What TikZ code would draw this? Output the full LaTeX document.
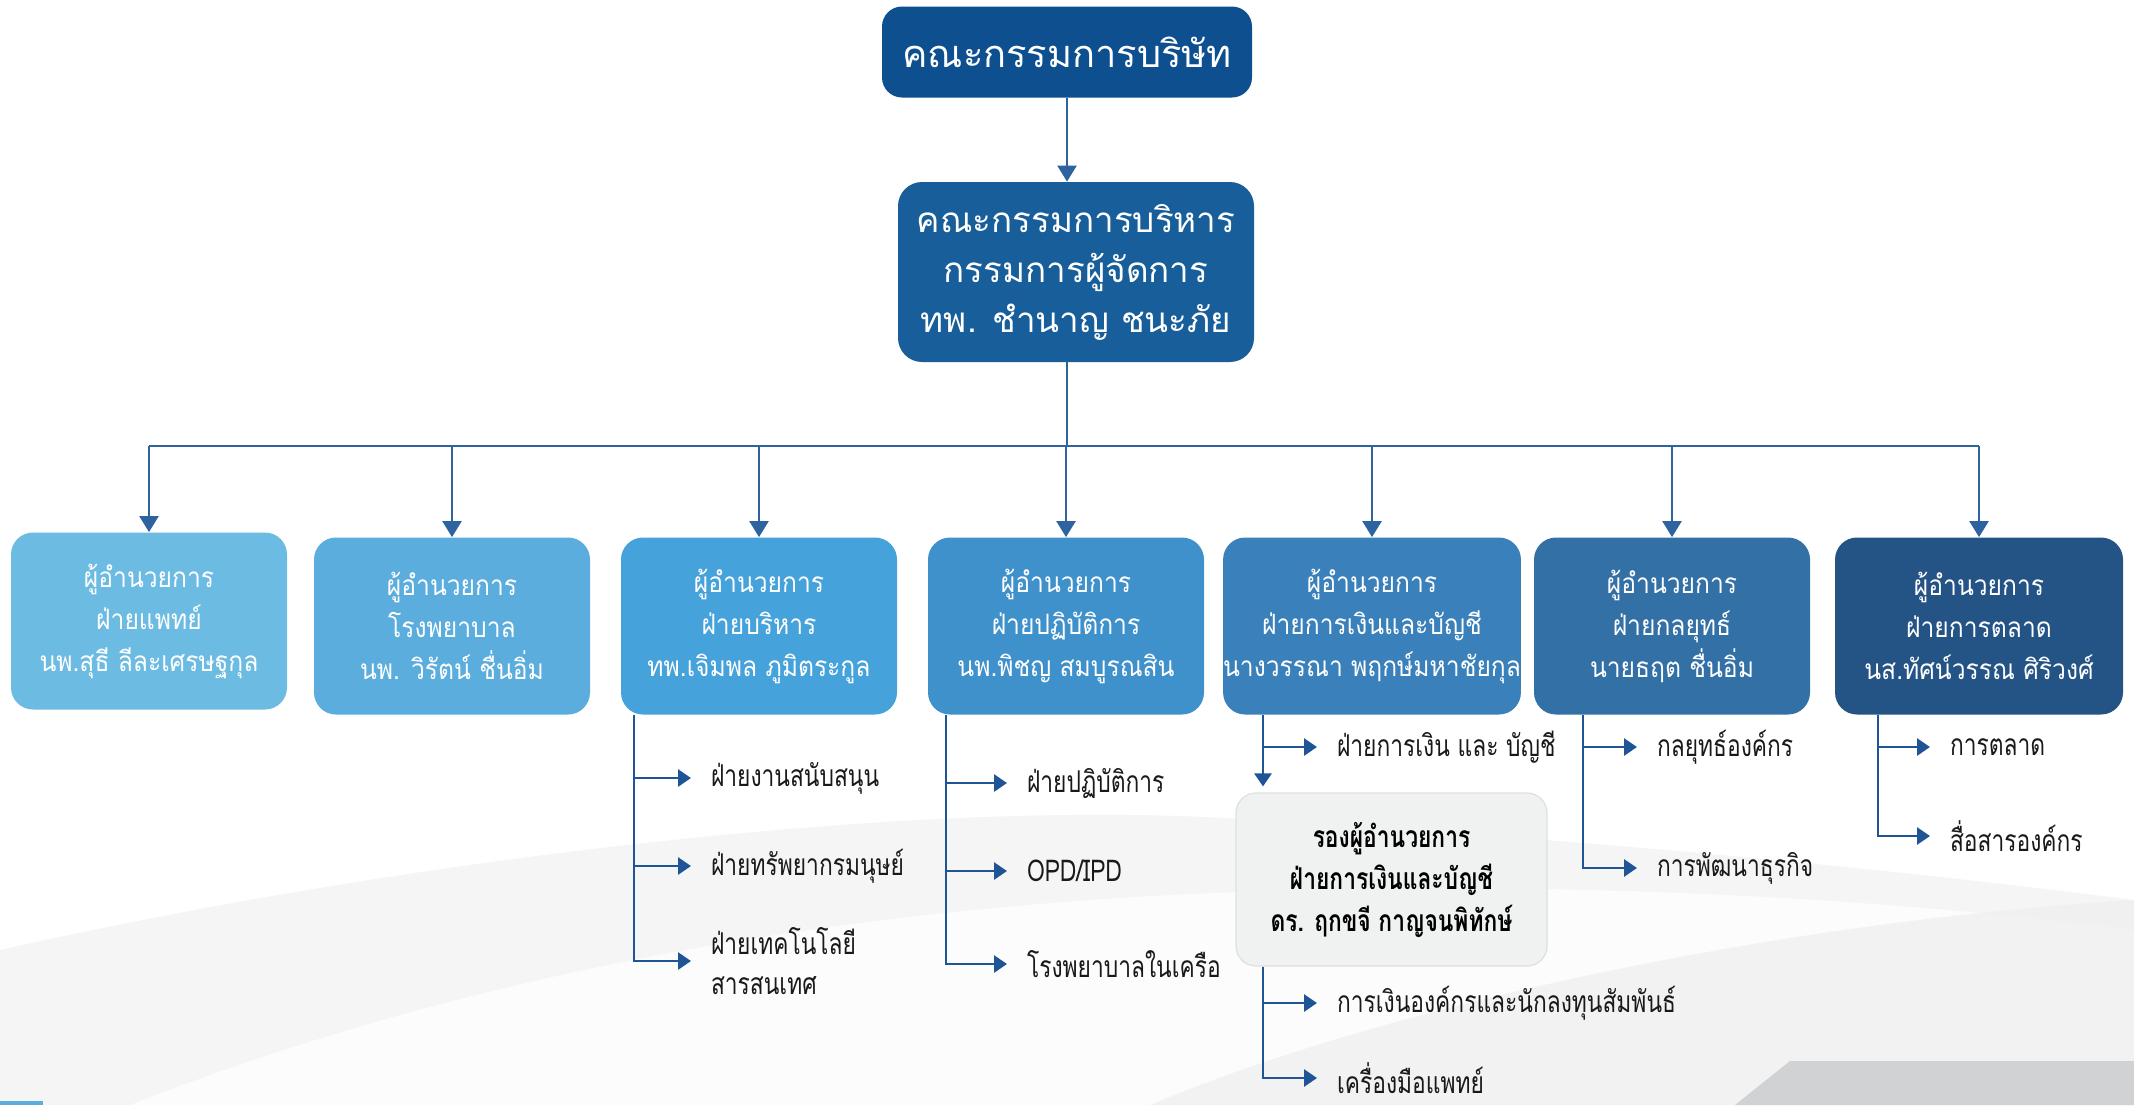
\documentclass[tikz,border=0pt]{standalone}
\usepackage{fontspec}
\setmainfont[Script=Thai]{Loma}
\newfontfamily\boxfont[Script=Thai,FakeStretch=0.88]{Loma}
\newfontfamily\condfont[Script=Thai,FakeStretch=0.76]{Loma}
\usetikzlibrary{arrows.meta,calc}
\definecolor{cTop}{HTML}{0D4F8F}
\definecolor{cExec}{HTML}{175E9A}
\definecolor{cD1}{HTML}{6CBBE2}
\definecolor{cD2}{HTML}{5AADDC}
\definecolor{cD3}{HTML}{46A2DB}
\definecolor{cD4}{HTML}{3F91CB}
\definecolor{cD5}{HTML}{3A80BA}
\definecolor{cD6}{HTML}{3270A6}
\definecolor{cD7}{HTML}{245385}
\definecolor{lineblue}{HTML}{2E63A0}
\definecolor{subblue}{HTML}{1F5597}
\definecolor{greybox}{HTML}{F0F1F1}
\definecolor{greyedge}{HTML}{DEE0E0}
\definecolor{swoosh}{HTML}{F5F5F6}
\definecolor{swooshdark}{HTML}{EFEFF0}
\definecolor{corner}{HTML}{D1D2D4}
\begin{document}
\begin{tikzpicture}[x=0.5pt,y=-0.5pt,
  topbox/.style={fill=cTop, rounded corners=10pt, text=white, align=center,
    minimum width=185pt, minimum height=45.5pt, inner sep=0pt,
    font=\fontsize{19}{24}\selectfont},
  execbox/.style={fill=cExec, rounded corners=12pt, text=white, align=center,
    minimum width=178pt, minimum height=90pt, inner sep=0pt,
    font=\fontsize{17.5}{25}\selectfont},
  dbox/.style={rounded corners=11pt, text=white, align=center,
    minimum width=138pt, minimum height=88.5pt, inner sep=0pt,
    font=\boxfont\fontsize{14}{21}\selectfont},
  gbox/.style={fill=greybox, draw=greyedge, line width=0.6pt, rounded corners=10pt,
    align=center, minimum width=155.5pt, minimum height=86.5pt, inner sep=0pt,
    font=\condfont\bfseries\fontsize{15}{21}\selectfont, text=black},
  item/.style={anchor=west, align=left, inner xsep=10pt, inner ysep=0pt, outer sep=0pt,
    font=\condfont\fontsize{15}{20}\selectfont, text=black!90},
  mainline/.style={draw=lineblue, line width=1.2pt},
  mainarrow/.style={mainline, -{Triangle[width=9.5pt,length=8pt]}},
  subarrow/.style={draw=subblue, line width=1.4pt, -{Triangle[width=8.5pt,length=6.5pt]}}
]
\useasboundingbox (0,0) rectangle (2134,1105);
% background
\fill[white] (0,0) rectangle (2134,1105);
\fill[swoosh] (0,950) .. controls (400,860) and (900,800) .. (1224,818)
  .. controls (1600,840) and (1900,870) .. (2134,900) -- (2134,1105) -- (0,1105) -- cycle;
\fill[white, opacity=0.75] (130,1105) .. controls (500,960) and (900,900) .. (1300,890)
  .. controls (1600,882) and (1900,900) .. (2134,930) -- (2134,1105) -- cycle;
\fill[swooshdark, opacity=0.7] (1150,1105) .. controls (1400,1000) and (1800,920) .. (2134,900)
  -- (2134,1105) -- cycle;
\fill[corner] (1735,1105) -- (1790,1061) -- (2134,1061) -- (2134,1105) -- cycle;
\fill[cD2] (0,1101) rectangle (43,1105);

% top levels
\node[topbox] (board) at (1067,52) {คณะกรรมการบริษัท};
\node[execbox] (exec) at (1076,272) {คณะกรรมการบริหาร\\กรรมการผู้จัดการ\\ทพ. ชำนาญ ชนะภัย};
\coordinate (bus) at (1067,446);

% directors
\node[dbox, fill=cD1] (d1) at (149,621) {ผู้อำนวยการ\\ฝ่ายแพทย์\\นพ.สุธี  ลีละเศรษฐกุล};
\node[dbox, fill=cD2] (d2) at (452,626) {ผู้อำนวยการ\\โรงพยาบาล\\นพ. วิรัตน์ ชื่นอิ่ม};
\node[dbox, fill=cD3] (d3) at (759,626) {ผู้อำนวยการ\\ฝ่ายบริหาร\\ทพ.เจิมพล  ภูมิตระกูล};
\node[dbox, fill=cD4] (d4) at (1066,626) {ผู้อำนวยการ\\ฝ่ายปฏิบัติการ\\นพ.พิชญ  สมบูรณสิน};
\node[dbox, fill=cD5, minimum width=143.5pt] (d5) at (1372,626) {ผู้อำนวยการ\\ฝ่ายการเงินและบัญชี\\นางวรรณา  พฤกษ์มหาชัยกุล};
\node[dbox, fill=cD6] (d6) at (1672,626) {ผู้อำนวยการ\\ฝ่ายกลยุทธ์\\นายธฤต  ชื่นอิ่ม};
\node[dbox, fill=cD7, minimum width=144pt] (d7) at (1979,626) {ผู้อำนวยการ\\ฝ่ายการตลาด\\นส.ทัศน์วรรณ  ศิริวงศ์};

\draw[mainarrow] (board.south) -- (exec.north -| board.south);
\draw[mainline] (exec.south -| board.south) -- (board.south |- bus);
\draw[mainline] (d1.north |- bus) -- (d7.north |- bus);
\foreach \i in {1,...,7} \draw[mainarrow] (d\i.north |- bus) -- (d\i.north);

% deputy box
\node[gbox] (g) at (1391.5,879.5) {รองผู้อำนวยการ\\ฝ่ายการเงินและบัญชี\\ดร. ฤกขจี  กาญจนพิทักษ์};

% vertical rail x positions
\coordinate (v3) at (634,0);
\coordinate (v4) at (946,0);
\coordinate (v5) at (1263,0);
\coordinate (v6) at (1583,0);
\coordinate (v7) at (1878,0);

% sub items
\node[item] (s31) at (691,778) {ฝ่ายงานสนับสนุน};
\node[item] (s32) at (691,866) {ฝ่ายทรัพยากรมนุษย์};
\node[item] (s33) at (691,961) {ฝ่ายเทคโนโลยี\\สารสนเทศ};
\node[item] (s41) at (1007,783) {ฝ่ายปฏิบัติการ};
\node[item] (s42) at (1007,871) {OPD/IPD};
\node[item] (s43) at (1007,964) {โรงพยาบาลในเครือ};
\node[item] (s51) at (1317,747) {ฝ่ายการเงิน และ บัญชี};
\node[item] (s61) at (1317,1003) {การเงินองค์กรและนักลงทุนสัมพันธ์};
\node[item] (s62) at (1317,1078) {เครื่องมือแพทย์};
\node[item] (s71) at (1637,747) {กลยุทธ์องค์กร};
\node[item] (s72) at (1637,868) {การพัฒนาธุรกิจ};
\node[item] (s81) at (1930,747) {การตลาด};
\node[item] (s82) at (1930,836) {สื่อสารองค์กร};

\foreach \s in {s31,s32,s33} \draw[subarrow] (d3.south -| v3) |- (\s.west);
\foreach \s in {s41,s42,s43} \draw[subarrow] (d4.south -| v4) |- (\s.west);
\draw[subarrow] (d5.south -| v5) |- (s51.west);
\draw[subarrow, shorten >=3pt] (d5.south -| v5) -- (g.north -| v5);
\foreach \s in {s61,s62} \draw[subarrow] (g.south -| v5) |- (\s.west);
\foreach \s in {s71,s72} \draw[subarrow] (d6.south -| v6) |- (\s.west);
\foreach \s in {s81,s82} \draw[subarrow] (d7.south -| v7) |- (\s.west);
\end{tikzpicture}
\end{document}
